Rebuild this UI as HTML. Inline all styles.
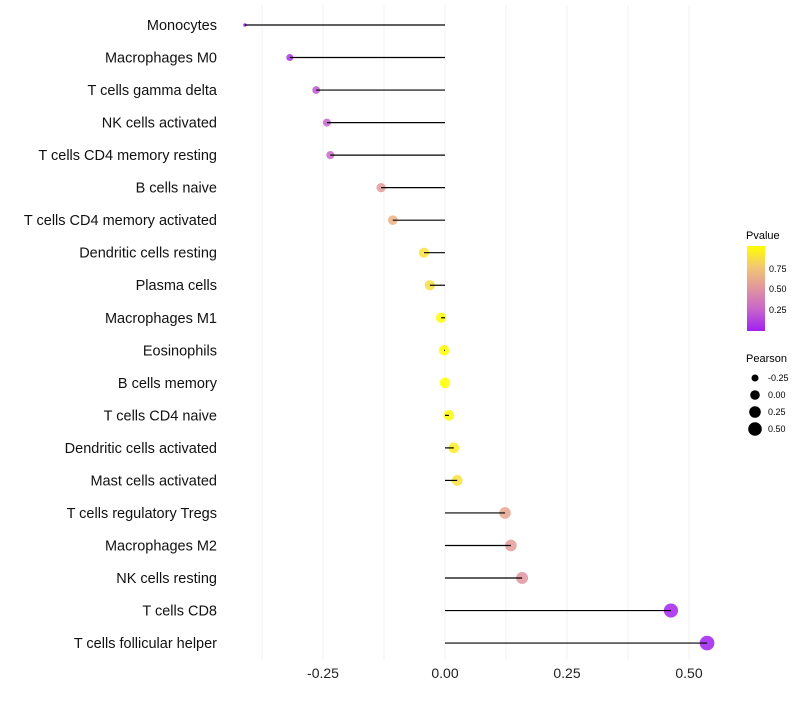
<!DOCTYPE html>
<html><head><meta charset="utf-8"><style>
body{margin:0;background:#fff;font-family:"Liberation Sans",sans-serif}
</style></head><body>
<svg id="chart" width="800" height="700" xmlns="http://www.w3.org/2000/svg">
<defs><linearGradient id="pg" x1="0" y1="1" x2="0" y2="0">
<stop offset="0" stop-color="#a020f0"/><stop offset="0.25" stop-color="#c764cc"/><stop offset="0.5" stop-color="#e0959e"/><stop offset="0.75" stop-color="#f2c673"/><stop offset="1" stop-color="#ffff00"/></linearGradient></defs>
<g id="grid"></g><g id="dots"></g><g id="marks"></g><g id="labels"></g>
<g font-size="10" fill="#000">
<text x="746" y="239" font-size="11">Pvalue</text>
<rect x="747" y="246" width="18" height="85" fill="url(#pg)"/>
<text x="769" y="272" font-size="9">0.75</text>
<text x="769" y="292" font-size="9">0.50</text>
<text x="769" y="313" font-size="9">0.25</text>
<text x="746" y="362" font-size="11">Pearson</text>
<circle cx="755" cy="378" r="3.5"/><text x="768" y="381" font-size="9">-0.25</text>
<circle cx="755" cy="395" r="4.8"/><text x="768" y="398" font-size="9">0.00</text>
<circle cx="755" cy="412" r="5.8"/><text x="768" y="415" font-size="9">0.25</text>
<circle cx="755" cy="429" r="6.8"/><text x="768" y="432" font-size="9">0.50</text>
</g>
</svg>
<script>
const categories=["Monocytes","Macrophages M0","T cells gamma delta","NK cells activated","T cells CD4 memory resting","B cells naive","T cells CD4 memory activated","Dendritic cells resting","Plasma cells","Macrophages M1","Eosinophils","B cells memory","T cells CD4 naive","Dendritic cells activated","Mast cells activated","T cells regulatory  Tregs ","Macrophages M2","NK cells resting","T cells CD8","T cells follicular helper"];
const pearson=[-0.41,-0.318,-0.264,-0.242,-0.235,-0.131,-0.107,-0.043,-0.031,-0.008,-0.002,0.0,0.008,0.018,0.025,0.123,0.135,0.158,0.463,0.537];
const pvalues=[0.0,0.08,0.2,0.25,0.27,0.53,0.65,0.87,0.85,0.98,0.99,1.0,0.98,0.92,0.87,0.58,0.54,0.5,0.02,0.0];
const xTicks=[-0.25,0,0.25,0.5];
const xTickLabels=["-0.25","0.00","0.25","0.50"];
const NS="http://www.w3.org/2000/svg";
const x=v=>445+v*488;
const y=i=>25+i*32.53;
const stops=[[0,[160,32,240]],[0.25,[199,100,204]],[0.5,[224,149,158]],[0.75,[242,198,115]],[1,[255,255,0]]];
function col(p){for(let k=1;k<stops.length;k++){if(p<=stops[k][0]){const a=stops[k-1],b=stops[k],t=(p-a[0])/(b[0]-a[0]);return 'rgb('+a[1].map((c,j)=>Math.round(c+(b[1][j]-c)*t)).join(',')+')';}}return 'rgb(255,255,0)';}
const mn=Math.min(...pearson),mx=Math.max(...pearson);
const rad=v=>{const t=(v-mn)/(mx-mn);return t<0.02?1.8:Math.sqrt(8+t*46);};
function mk(tag,attrs,parent){const e=document.createElementNS(NS,tag);for(const k in attrs)e.setAttribute(k,attrs[k]);parent.appendChild(e);return e;}
const grid=document.getElementById('grid'),marks=document.getElementById('marks'),dots=document.getElementById('dots'),labels=document.getElementById('labels');
for(let g=-0.375;g<=0.51;g+=0.125){const l=mk('line',{x1:x(g),x2:x(g),y1:5,y2:660,stroke:'#f1f1f1','stroke-width':1},grid);

}
xTicks.forEach((t,i)=>{const e=mk('text',{x:x(t),y:678,'text-anchor':'middle','font-size':14,fill:'#222'},labels);e.textContent=xTickLabels[i];

});
categories.forEach((c,i)=>{
const t=mk('text',{x:217,y:y(i)+5,'text-anchor':'end','font-size':14.5,fill:'#111'},labels);t.textContent=c;


const d=mk('circle',{cx:x(pearson[i]),cy:y(i),r:rad(pearson[i]),fill:col(pvalues[i]),'fill-opacity':0.85},dots);


const l=mk('line',{x1:x(0),x2:x(pearson[i]),y1:y(i),y2:y(i),stroke:'#000','stroke-width':1.2},marks);


});
</script>
</body></html>
